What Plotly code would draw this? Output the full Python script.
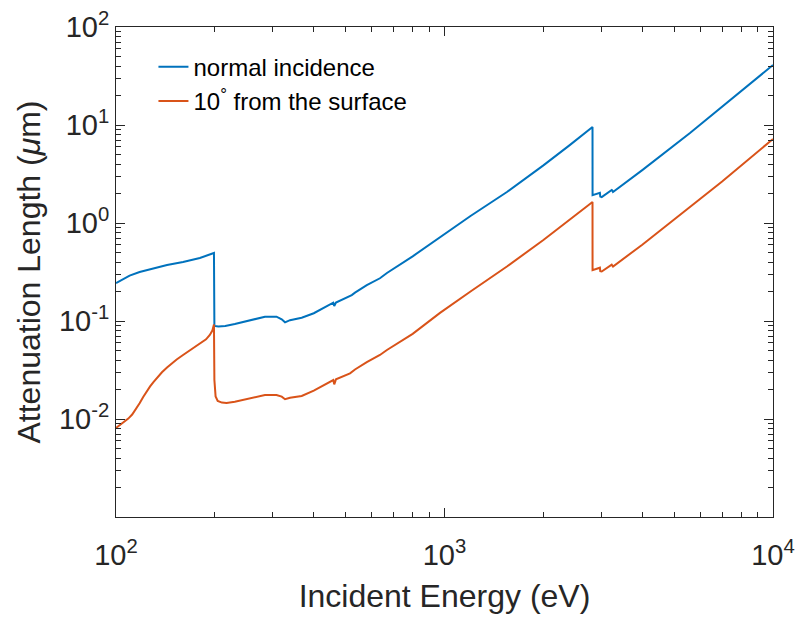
import plotly.graph_objects as go

# ---- data ----
energy_normal = [100, 105, 110, 118, 130, 143, 160, 180, 198.7, 199.3, 205, 215, 230, 256, 284, 308,
                 319.5, 327, 338.6, 367.5, 400, 458.6, 461.7, 467.3, 515.7, 522, 534, 580, 636, 668,
                 800, 969, 1200, 1549, 2000, 2400, 2822, 2823, 2960, 2972, 2980, 3010, 3229, 3240,
                 3258, 4000, 5589, 7000, 10000]
atten_normal = [0.244, 0.268, 0.290, 0.316, 0.343, 0.372, 0.400, 0.440, 0.494, 0.089, 0.088, 0.089,
                0.093, 0.102, 0.1107, 0.1107, 0.104, 0.097, 0.102, 0.108, 0.120, 0.154, 0.142, 0.154,
                0.180, 0.184, 0.195, 0.232, 0.273, 0.309, 0.457, 0.72, 1.18, 2.07, 3.87, 6.2, 9.55,
                1.92, 2.00, 2.03, 1.86, 1.84, 2.17, 2.15, 2.07, 3.46, 8.28, 15.3, 41.0]

energy_tilted = [100, 103, 106, 109, 112, 115, 118, 121, 124, 127, 130, 134, 138, 143, 148, 153, 160,
                 167, 175, 182, 188, 193, 196.5, 198.7, 199.3, 201, 204, 210, 217, 230, 256, 284, 308,
                 319.5, 327, 338.6, 367.5, 400, 458.6, 461.7, 467.3, 515.7, 534, 580, 636, 668, 800,
                 969, 1200, 1549, 2000, 2400, 2822, 2823, 2960, 2972, 2980, 3010, 3229, 3240, 3258,
                 4000, 5589, 7000, 10000]
atten_tilted = [0.0081, 0.0087, 0.0094, 0.0101, 0.0111, 0.0126, 0.0145, 0.0168, 0.0192, 0.0215,
                0.0238, 0.0270, 0.0300, 0.0335, 0.0370, 0.0405, 0.0450, 0.0495, 0.0545, 0.0595,
                0.0650, 0.0720, 0.0800, 0.0920, 0.0250, 0.0170, 0.0153, 0.0147, 0.0146, 0.0150,
                0.0163, 0.0176, 0.0176, 0.0169, 0.0159, 0.0165, 0.0172, 0.0195, 0.0250, 0.0226,
                0.0254, 0.0292, 0.0320, 0.0380, 0.0450, 0.0506, 0.074, 0.121, 0.200, 0.360, 0.67,
                1.07, 1.64, 0.330, 0.345, 0.350, 0.322, 0.320, 0.375, 0.372, 0.360, 0.60, 1.44,
                2.65, 7.2]

series_names = ["normal incidence", "10<sup>°</sup> from the surface"]
series_colors = ["#0072BD", "#D95319"]

x_tick_vals = [100, 1000, 10000]
x_tick_text = ["10<sup>2</sup>", "10<sup>3</sup>", "10<sup>4</sup>"]
y_tick_vals = [1e-3, 1e-2, 1e-1, 1, 10, 100]
y_tick_text = ["", "10<sup>-2</sup>", "10<sup>-1</sup>", "10<sup>0</sup>", "10<sup>1</sup>", "10<sup>2</sup>"]

x_minor_vals = [m * d for d in (100, 1000) for m in range(2, 10)]
y_minor_vals = [m * d for d in (1e-3, 1e-2, 1e-1, 1, 10) for m in range(2, 10)]

FONT = "Liberation Sans, Arial, Helvetica, sans-serif"
AX = "#262626"

fig = go.Figure()
for xs, ys, name, col in [(energy_normal, atten_normal, series_names[0], series_colors[0]),
                          (energy_tilted, atten_tilted, series_names[1], series_colors[1])]:
    fig.add_trace(go.Scatter(x=xs, y=ys, mode="lines", name=name,
                             line=dict(color=col, width=2)))

axis_common = dict(
    type="log", showgrid=False, zeroline=False, automargin=False,
    showline=True, linecolor=AX, linewidth=1, mirror="ticks",
    ticks="inside", ticklen=9, tickwidth=1, tickcolor=AX,
    tickfont=dict(family=FONT, size=29, color=AX),
)

fig.update_xaxes(range=[2, 4], tickmode="array", tickvals=x_tick_vals, ticktext=x_tick_text,
                 ticklabelstandoff=12,
                 minor=dict(tickmode="array", tickvals=x_minor_vals, ticks="inside", ticklen=5,
                            tickwidth=1, tickcolor=AX, showgrid=False),
                 title=dict(text="Incident Energy (eV)", font=dict(family=FONT, size=32, color=AX),
                            standoff=14),
                 **axis_common)
fig.update_yaxes(range=[-3, 2], tickmode="array", tickvals=y_tick_vals, ticktext=y_tick_text,
                 minor=dict(tickmode="array", tickvals=y_minor_vals, ticks="inside", ticklen=5,
                            tickwidth=1, tickcolor=AX, showgrid=False),
                 title=dict(text="Attenuation Length (<i>μ</i>m)",
                            font=dict(family=FONT, size=32, color=AX), standoff=8),
                 **axis_common)

fig.update_layout(
    width=798, height=617,
    margin=dict(l=116, r=25, t=27, b=100),
    paper_bgcolor="white", plot_bgcolor="white",
    font=dict(family=FONT, color=AX),
    showlegend=True,
    legend=dict(x=0.057, y=0.964, xanchor="left", yanchor="top",
                bgcolor="rgba(0,0,0,0)", borderwidth=0, tracegroupgap=0,
                font=dict(family=FONT, size=24, color="#000000")),
)

fig.write_html("out.html")
